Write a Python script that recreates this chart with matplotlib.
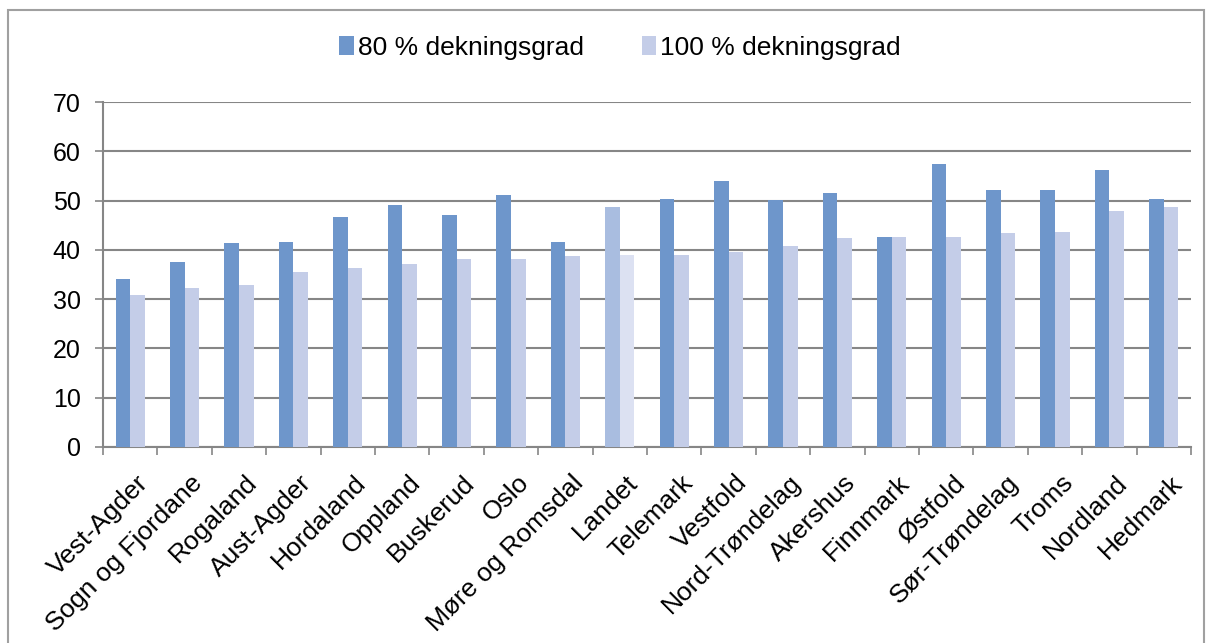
import matplotlib.pyplot as plt
import matplotlib.transforms as mtransforms
import numpy as np
from matplotlib.patches import Rectangle

plt.rcParams['font.family'] = ['Liberation Sans', 'DejaVu Sans']

fylker = ['Vest-Agder', 'Sogn og Fjordane', 'Rogaland', 'Aust-Agder', 'Hordaland',
          'Oppland', 'Buskerud', 'Oslo', 'Møre og Romsdal', 'Landet', 'Telemark',
          'Vestfold', 'Nord-Trøndelag', 'Akershus', 'Finnmark', 'Østfold',
          'Sør-Trøndelag', 'Troms', 'Nordland', 'Hedmark']
dekning_80 = [34.1, 37.5, 41.3, 41.5, 46.7, 49.1, 47.1, 51.2, 41.5, 48.6,
              50.4, 54.0, 50.1, 51.6, 42.6, 57.5, 52.2, 52.2, 56.2, 50.4]
dekning_100 = [30.9, 32.3, 32.9, 35.6, 36.4, 37.1, 38.1, 38.2, 38.7, 39.0,
               39.0, 39.6, 40.7, 42.5, 42.6, 42.6, 43.5, 43.6, 47.9, 48.7]

C80 = '#6E96CB'
C100 = '#C4CDE8'
C80_LANDET = '#A9BDE0'
C100_LANDET = '#DCE1F2'
GRID = '#868686'

fig = plt.figure(figsize=(12.08, 6.43), dpi=100)
fig.patch.set_facecolor('white')
ax = fig.add_axes([103/1208, 1-447/643, (1191-103)/1208, (447-102)/643])

x = np.arange(len(fylker))
w = 0.27
c80 = [C80_LANDET if f == 'Landet' else C80 for f in fylker]
c100 = [C100_LANDET if f == 'Landet' else C100 for f in fylker]
ax.bar(x - w/2, dekning_80, w, color=c80, edgecolor='none', zorder=3,
       label='80 % dekningsgrad')
ax.bar(x + w/2, dekning_100, w, color=c100, edgecolor='none', zorder=3,
       label='100 % dekningsgrad')

ax.set_xlim(-0.5, len(fylker) - 0.5)
ax.set_ylim(0, 70)
ax.set_yticks(range(0, 71, 10))
ax.yaxis.grid(True, color=GRID, lw=1.5, zorder=0)
ax.set_axisbelow(True)

for s in ['top', 'right']:
    ax.spines[s].set_visible(False)
for s in ['left', 'bottom']:
    ax.spines[s].set_color(GRID)
    ax.spines[s].set_linewidth(1.5)

# category ticks at boundaries, labels at centres
ax.set_xticks(np.arange(-0.5, len(fylker)), minor=False)
ax.set_xticklabels([])
ax.set_xticks(x, minor=True)
ax.set_xticklabels(fylker, minor=True, rotation=45, ha='right',
                   rotation_mode='anchor', fontsize=19)
ax.tick_params(axis='x', which='major', length=6, width=1.2, color=GRID, direction='out')
ax.tick_params(axis='x', which='minor', length=0, pad=17)
ax.tick_params(axis='y', length=6, width=1.2, color=GRID, labelsize=18, pad=10)

# nudge rotated labels slightly to the right, as in the original
shift = mtransforms.ScaledTranslation(6/100, 0, fig.dpi_scale_trans)
for lbl in ax.get_xticklabels(minor=True):
    lbl.set_transform(lbl.get_transform() + shift)

leg = fig.legend(loc='center', bbox_to_anchor=(620/1208, 1-48/643), ncol=2,
                 frameon=False, fontsize=19, handlelength=0.55, handleheight=0.75,
                 handletextpad=0.15, columnspacing=2.2)

# outer chart border
fig.add_artist(Rectangle((8/1208, -0.01), 1196/1208, 1.01-10/643, transform=fig.transFigure,
                         fill=False, edgecolor='#A0A0A0', lw=1.5))

fig.savefig('out.png', dpi=100, facecolor='white')
